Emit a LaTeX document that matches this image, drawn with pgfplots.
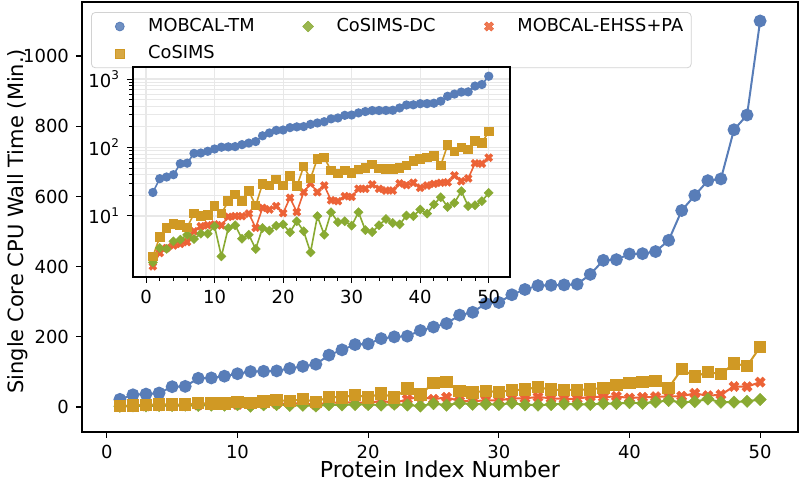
\documentclass[border=0pt]{standalone}
\usepackage{pgfplots}
\pgfplotsset{compat=1.18}
\usepackage{fontspec}
\setmainfont{DejaVu Sans}
\definecolor{cblue}{RGB}{88,125,184}
\definecolor{cyel}{RGB}{208,153,36}
\definecolor{cgreen}{RGB}{137,170,50}
\definecolor{corange}{RGB}{236,98,54}
\definecolor{gridc}{RGB}{232,232,232}

\pgfdeclareplotmark{Dmd}{%
  \pgfpathmoveto{\pgfqpoint{0pt}{\pgfplotmarksize}}%
  \pgfpathlineto{\pgfqpoint{\pgfplotmarksize}{0pt}}%
  \pgfpathlineto{\pgfqpoint{0pt}{-\pgfplotmarksize}}%
  \pgfpathlineto{\pgfqpoint{-\pgfplotmarksize}{0pt}}%
  \pgfpathclose\pgfusepathqfillstroke}
\pgfdeclareplotmark{fatx}{%
  \pgftransformrotate{45}%
  \pgfpathmoveto{\pgfqpoint{0.35\pgfplotmarksize}{\pgfplotmarksize}}%
  \pgfpathlineto{\pgfqpoint{0.35\pgfplotmarksize}{0.35\pgfplotmarksize}}%
  \pgfpathlineto{\pgfqpoint{\pgfplotmarksize}{0.35\pgfplotmarksize}}%
  \pgfpathlineto{\pgfqpoint{\pgfplotmarksize}{-0.35\pgfplotmarksize}}%
  \pgfpathlineto{\pgfqpoint{0.35\pgfplotmarksize}{-0.35\pgfplotmarksize}}%
  \pgfpathlineto{\pgfqpoint{0.35\pgfplotmarksize}{-\pgfplotmarksize}}%
  \pgfpathlineto{\pgfqpoint{-0.35\pgfplotmarksize}{-\pgfplotmarksize}}%
  \pgfpathlineto{\pgfqpoint{-0.35\pgfplotmarksize}{-0.35\pgfplotmarksize}}%
  \pgfpathlineto{\pgfqpoint{-\pgfplotmarksize}{-0.35\pgfplotmarksize}}%
  \pgfpathlineto{\pgfqpoint{-\pgfplotmarksize}{0.35\pgfplotmarksize}}%
  \pgfpathlineto{\pgfqpoint{-0.35\pgfplotmarksize}{0.35\pgfplotmarksize}}%
  \pgfpathlineto{\pgfqpoint{-0.35\pgfplotmarksize}{\pgfplotmarksize}}%
  \pgfpathclose\pgfusepathqfillstroke}

\pgfplotstableread{
x tm cos dc ehss
1 22 2.56 2.09 1.83
2 35 4.9 3.39 2.87
3 37 6.7 3.3 3.39
4 40 7.6 4.25 3.7
5 58 7.4 4.5 3.9
6 59 6.8 5.3 4.15
7 82 10.8 4.6 5.96
8 83 9.9 5.5 7.05
9 88 10.3 5.5 7.3
10 95 13.9 7.05 7.5
11 101 10.8 2.56 7.3
12 102 16.4 6.67 9.7
13 103 20.6 7.3 9.9
14 110 16.6 4.65 9.9
15 116 23 5.3 10.8
16 122 14.2 3.28 6.7
17 148 29.4 6.67 13.1
18 163 27.8 6.1 12.4
19 178 34.1 7.2 13.9
20 180 27.8 7.5 11
21 195 38.2 5.76 18.4
22 200 27.2 8.35 11.4
23 202 52.4 5.96 22.2
24 218 35.3 2.93 29.8
25 228 68.5 9.9 22.2
26 238 71 5.3 27.8
27 262 46.2 11.3 16.9
28 270 41.8 8.1 16.4
29 295 46 8.35 19.4
30 298 42.7 7.2 19
31 320 47.8 11.3 24.9
32 335 50.6 6.2 24.9
33 346 56.6 5.8 28.8
34 347 49.5 7.3 24.9
35 348 48.9 9.0 23.5
36 350 48.9 7.9 23.5
37 378 50.6 7.5 29.8
38 418 54.8 10.1 28.2
39 420 63.3 9.9 30.5
40 436 68.5 12.4 25.8
41 437 71 10.8 27.8
42 443 75 14.7 29.4
43 475 54.8 18.8 30.5
44 560 108 13.5 31
45 603 87 15.5 39
46 645 99.5 23 32.2
47 650 94 13.9 35.3
48 790 124 14.3 58.6
49 832 117 16.4 58
50 1100 171 21.7 71
}\datatable

\begin{document}
\begin{tikzpicture}
\useasboundingbox (0,0) rectangle (400pt,241pt);
\begin{axis}[
  at={(41pt,25pt)}, anchor=south west,
  scale only axis, width=358pt, height=215pt,
  xmin=-1.9, xmax=52.9, ymin=-71, ymax=1154,
  xtick={0,10,20,30,40,50},
  ytick={0,200,400,600,800,1000},
  tick align=outside, tick pos=left,
  major tick length=3pt,
  axis line style={line width=0.6pt},
  every tick/.style={black, line width=0.6pt},
  ticklabel style={font=\fontsize{9}{11}\selectfont},
  /pgf/number format/assume math mode=true,
  /pgf/number format/1000 sep={},
  xlabel={Protein Index Number},
  ylabel={Single Core CPU Wall Time (Min.)},
  every axis x label/.style={at={(axis description cs:0.5,-0.1047)},anchor=base,font=\fontsize{11}{13}\selectfont},
  every axis y label/.style={at={(axis description cs:-0.0894,0.49)},rotate=90,anchor=center,font=\fontsize{10.5}{12.5}\selectfont},
  legend columns=3,
  legend cell align=left,
  legend style={at={(axis description cs:0.0126,0.9767)}, anchor=north west,
    draw=gray!35, rounded corners=2pt, fill=white, fill opacity=0.85, text opacity=1,
    font=\fontsize{8.9}{10.5}\selectfont, inner xsep=2pt, inner ysep=1pt,
    row sep=1.5pt,
    /tikz/every even column/.append style={column sep=12.5pt}},
  legend image code/.code={%
    \path (-12pt,0pt) (12pt,0pt);
    \draw[mark repeat=2,mark phase=2] plot coordinates {(-12pt,0pt)(0pt,0pt)(12pt,0pt)};
  },
]
\addlegendimage{only marks, mark=*, cblue, mark size=2.2pt}
\addlegendentry{MOBCAL-TM}
\addlegendimage{only marks, mark=Dmd, cgreen, mark size=2.7pt, mark options={line width=0.2pt}}
\addlegendentry{CoSIMS-DC}
\addlegendimage{only marks, mark=fatx, corange, mark size=2.4pt, mark options={line width=0.2pt}}
\addlegendentry{MOBCAL-EHSS+PA}
\addlegendimage{only marks, mark=square*, cyel, mark size=2.1pt}
\addlegendentry{CoSIMS}

\addplot[forget plot, cblue, line width=1pt, mark=*, mark size=2.7pt] table[x=x,y=tm] {\datatable};
\addplot[forget plot, corange, line width=1pt, mark=fatx, mark size=2.7pt, mark options={line width=0.2pt}] table[x=x,y=ehss] {\datatable};
\addplot[forget plot, cgreen, line width=1pt, mark=Dmd, mark size=3.1pt, mark options={line width=0.2pt}] table[x=x,y=dc] {\datatable};
\addplot[forget plot, cyel, line width=1pt, mark=square*, mark size=2.6pt] table[x=x,y=cos] {\datatable};
\end{axis}

\begin{axis}[
  at={(66.5pt,102.5pt)}, anchor=south west,
  scale only axis, width=188.5pt, height=105pt,
  xmin=-1.9, xmax=53.1, ymode=log, ymin=1.28, ymax=1500,
  axis background/.style={fill=white},
  xtick={0,10,20,30,40,50},
  minor x tick num=4,
  ytick={10,100,1000},
  yticklabels={10\textsuperscript{1},10\textsuperscript{2},10\textsuperscript{3}},
  tick align=outside, tick pos=left,
  major tick length=3pt, minor tick length=1.8pt,
  axis line style={line width=0.6pt},
  every tick/.style={black, line width=0.5pt},
  ticklabel style={font=\fontsize{9}{11}\selectfont},
  /pgf/number format/assume math mode=true,
  xmajorgrids, ymajorgrids, yminorgrids,
  major grid style={gridc, line width=0.6pt},
  minor grid style={gridc, line width=0.4pt},
]
\addplot[cblue, line width=0.8pt, mark=*, mark size=1.9pt] table[x=x,y=tm] {\datatable};
\addplot[corange, line width=0.8pt, mark=fatx, mark size=2.1pt, mark options={line width=0.2pt}] table[x=x,y=ehss] {\datatable};
\addplot[cgreen, line width=0.8pt, mark=Dmd, mark size=2.3pt, mark options={line width=0.2pt}] table[x=x,y=dc] {\datatable};
\addplot[cyel, line width=0.8pt, mark=square*, mark size=2pt] table[x=x,y=cos] {\datatable};
\end{axis}
\end{tikzpicture}
\end{document}
